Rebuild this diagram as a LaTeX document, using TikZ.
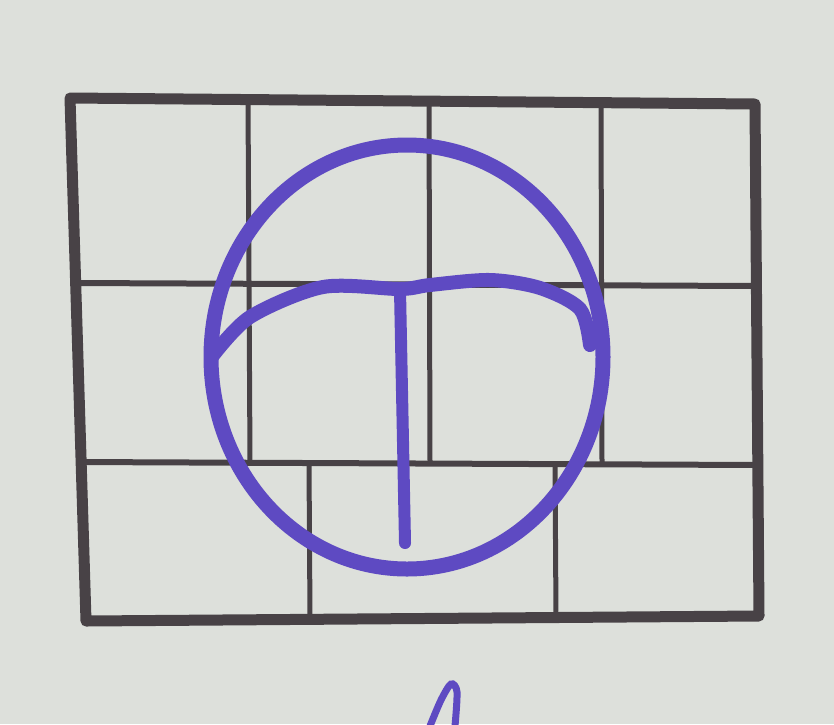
\documentclass[tikz,border=0pt]{standalone}
\usepackage{tikz}

\definecolor{paper}{RGB}{221,224,219}
\definecolor{pencil}{RGB}{72,66,70}
\definecolor{marker}{RGB}{94,74,194}

\begin{document}
\begin{tikzpicture}[x=1pt,y=-1pt]
\useasboundingbox (0,0) rectangle (834,724);
\fill[paper] (0,0) rectangle (834,724);
% frame corners
\coordinate (tl) at (70,98);
\coordinate (tr) at (755,104);
\coordinate (br) at (759,616);
\coordinate (bl) at (86,621);
\draw[pencil, line width=6pt] (75,283) -- (757,286);
\draw[pencil, line width=6pt] (79,462) -- (758,465);
\draw[pencil, line width=5pt] (248,100) -- (250,463);
\draw[pencil, line width=5pt] (429,102) -- (430,463);
\draw[pencil, line width=5pt] (601,103) -- (602,463);
\draw[pencil, line width=5pt] (309,463) -- (310,619);
\draw[pencil, line width=5pt] (555,464) -- (556,617);
\draw[pencil, line width=11pt, line join=round] (tl) -- (tr) -- (br) -- (bl) -- cycle;
% circle and the T inside it
\draw[marker, line width=15pt] (407,357) ellipse (196 and 212);
\draw[marker, line width=14pt, line cap=round] plot[smooth] coordinates
  {(211,358) (250,317) (323,287) (400,289) (430,285) (490,280) (540,288) (580,309) (590,345)};
\draw[marker, line width=12pt, line cap=round] (400,290) -- (405,543);
% loop at the bottom edge
\draw[marker, line width=7pt] plot[smooth] coordinates
  {(430,726) (441,700) (451,684) (457,692) (455,726)};
\end{tikzpicture}
\end{document}
